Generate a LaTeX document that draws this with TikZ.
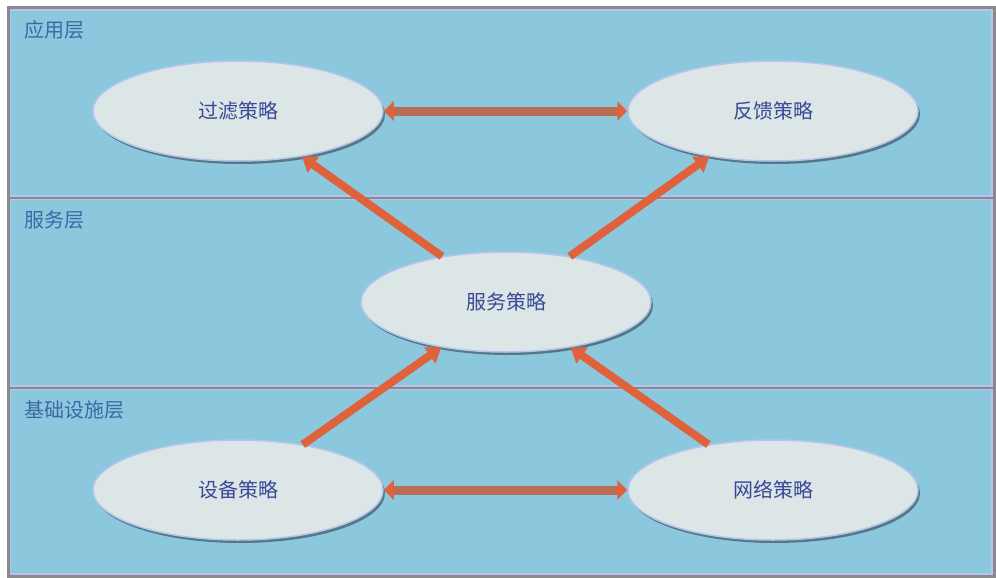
\documentclass[tikz,border=0pt]{standalone}
\usepackage{fontspec}
\setmainfont{Noto Sans CJK SC}
\usetikzlibrary{shapes.geometric,arrows.meta,shadows}

\definecolor{bandblue}{HTML}{8CC8DD}
\definecolor{rimlav}{HTML}{B4C4EE}
\definecolor{framegray}{HTML}{8A8A8A}
\definecolor{ovalfill}{HTML}{DCE6E6}
\definecolor{textblue}{HTML}{3A4896}
\definecolor{layerblue}{HTML}{3C68A8}
\definecolor{arroworange}{HTML}{E0623C}
\definecolor{barbrown}{HTML}{BA6C54}

\tikzset{
  policy/.style={ellipse,fill=ovalfill,draw=rimlav,line width=1.5pt,minimum width=290pt,minimum height=100pt,inner sep=0pt,font=\fontsize{20.0}{24.0}\selectfont,text=textblue,drop shadow={shadow xshift=2pt,shadow yshift=-3pt,fill=black!50!bandblue,opacity=.8}},
  layer/.style={anchor=base west,inner sep=0pt,font=\fontsize{20.0}{24.0}\selectfont,text=layerblue},
  band/.style={fill=bandblue,draw=rimlav,line width=1.5pt},
  uplink/.style={-{Triangle[length=14pt,width=19pt]},line width=8pt,draw=arroworange},
  sidelink/.style={{Triangle[length=10pt,width=19pt,color=arroworange]}-{Triangle[length=10pt,width=19pt,color=arroworange]},line width=9pt,draw=barbrown},
}

\begin{document}
\begin{tikzpicture}[x=1pt,y=-1pt]
\path[use as bounding box] (0,0) rectangle (996.0,578.0);
% layer bands
\draw[band] (10,10) rectangle (992,196);
\draw[band] (10,199) rectangle (992,386);
\draw[band] (10,389) rectangle (992,574);
\draw[framegray,line width=2pt] (8,197.5) -- (994,197.5);
\draw[framegray,line width=2pt] (8,387.5) -- (994,387.5);
\draw[framegray,line width=3pt] (8,8) rectangle (994,576);
\node[layer] (appLayer) at (24,38) {应用层};
\node[layer] (svcLayer) at (24,227) {服务层};
\node[layer] (infraLayer) at (24,417) {基础设施层};
% policies
\node[policy] (filter) at (238,111) {过滤策略};
\node[policy] (feedback) at (773,111) {反馈策略};
\node[policy] (service) at (506,302) {服务策略};
\node[policy] (device) at (238,490) {设备策略};
\node[policy] (network) at (773,490) {网络策略};
% links
\draw[sidelink] (filter) -- (feedback);
\draw[sidelink] (device) -- (network);
\draw[uplink] (service) -- (filter);
\draw[uplink] (service) -- (feedback);
\draw[uplink] (device) -- (service);
\draw[uplink] (network) -- (service);
\end{tikzpicture}
\end{document}
